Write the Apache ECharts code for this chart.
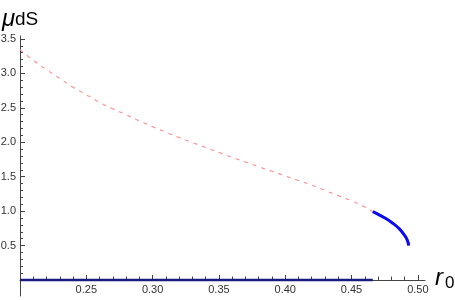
<!DOCTYPE html>
<html>
<head>
<meta charset="utf-8">
<script src="https://cdn.jsdelivr.net/npm/echarts@6/dist/echarts.min.js"></script>
<style>
html,body{margin:0;padding:0;background:#fff;}
#c{width:455px;height:300px;}
</style>
</head>
<body>
<div id="c"></div>
<script>
// Dashed (unstable) branch
var dashX = [0.20, 0.21, 0.22, 0.23, 0.24, 0.25, 0.26, 0.27, 0.28, 0.29, 0.30, 0.31, 0.32, 0.33, 0.34, 0.35, 0.36, 0.37, 0.38, 0.39, 0.40, 0.41, 0.42, 0.43, 0.44, 0.45, 0.46, 0.466];
var dashY = [3.345, 3.19, 3.053, 2.927, 2.80, 2.69, 2.58, 2.485, 2.40, 2.31, 2.226, 2.146, 2.07, 1.996, 1.925, 1.853, 1.78, 1.712, 1.645, 1.578, 1.511, 1.445, 1.379, 1.30, 1.225, 1.15, 1.06, 0.993];
// Solid blue branch
var blueX = [0.466, 0.4715, 0.4765, 0.4815, 0.4861, 0.4896, 0.4921, 0.4931];
var blueY = [0.993, 0.939, 0.886, 0.818, 0.742, 0.659, 0.576, 0.50];
// Zero branch
var zeroX = [0.20, 0.466];
var zeroY = [0, 0];
// Tick labels
var xTicks = [0.25, 0.30, 0.35, 0.40, 0.45, 0.50];
var xMinor = [0.21, 0.22, 0.23, 0.24, 0.26, 0.27, 0.28, 0.29, 0.31, 0.32, 0.33, 0.34, 0.36, 0.37, 0.38, 0.39, 0.41, 0.42, 0.43, 0.44, 0.46, 0.47, 0.48, 0.49];
var yTicks = [0.5, 1.0, 1.5, 2.0, 2.5, 3.0, 3.5];
var yMinor = [0.1, 0.2, 0.3, 0.4, 0.6, 0.7, 0.8, 0.9, 1.1, 1.2, 1.3, 1.4, 1.6, 1.7, 1.8, 1.9, 2.1, 2.2, 2.3, 2.4, 2.6, 2.7, 2.8, 2.9, 3.1, 3.2, 3.3, 3.4];

function pairs(xs, ys) { return xs.map(function (x, i) { return [x, ys[i]]; }); }

var AX = '#444';
var FONT = 'Liberation Sans, Arial, sans-serif';
var chart = echarts.init(document.getElementById('c'), null, {renderer: 'canvas'});
var xMin = 0.2, xMax = 0.5054, yMin = -0.232, yMax = 3.543;
var plotRect = {left: 20, top: 36, width: 405, height: 244, containLabel: false, outerBoundsMode: 'none'};
var fullRect = {left: 20, top: 36, width: 405, height: 260, containLabel: false, outerBoundsMode: 'none'};
var hidden = {show: false};

chart.setOption({
  animation: false,
  backgroundColor: '#fff',
  grid: [Object.assign({}, plotRect), Object.assign({}, fullRect), Object.assign({}, plotRect)],
  xAxis: [{
    gridIndex: 0, type: 'value', min: xMin, max: xMax, position: 'bottom',
    axisLine: {show: true, onZero: false, lineStyle: {color: AX, width: 1}},
    axisTick: {show: true, inside: true, length: 5, customValues: xTicks, lineStyle: {color: AX}},
    axisLabel: {show: true, customValues: xTicks, margin: 4, color: '#333', fontSize: 11, fontFamily: FONT,
      formatter: function (v) { return v.toFixed(2); }},
    splitLine: hidden
  }, {
    gridIndex: 1, type: 'value', min: xMin, max: xMax, show: false,
    axisLine: {onZero: false}
  }, {
    gridIndex: 2, type: 'value', min: xMin, max: xMax, position: 'bottom',
    axisLine: {show: false, onZero: false},
    axisTick: {show: true, inside: true, length: 3.5, customValues: xMinor, lineStyle: {color: AX}},
    axisLabel: hidden, splitLine: hidden
  }],
  yAxis: [{
    gridIndex: 0, type: 'value', min: 0, max: yMax, position: 'left',
    axisLine: {show: false, onZero: false},
    axisTick: {show: true, inside: true, length: 3, customValues: yMinor, lineStyle: {color: AX}},
    axisLabel: hidden, splitLine: hidden
  }, {
    gridIndex: 1, type: 'value', min: yMin, max: yMax, position: 'left',
    axisLine: {show: true, onZero: false, lineStyle: {color: AX, width: 1}},
    axisTick: {show: true, inside: true, length: 5, customValues: yTicks, lineStyle: {color: AX}},
    axisLabel: {show: true, customValues: yTicks, margin: 4, color: '#333', fontSize: 11, fontFamily: FONT,
      formatter: function (v) { return v.toFixed(1); }},
    splitLine: hidden
  }, {
    gridIndex: 2, type: 'value', min: 0, max: yMax, show: false,
    axisLine: {onZero: false}
  }],
  series: [{
    type: 'line', xAxisIndex: 0, yAxisIndex: 0, data: pairs(zeroX, zeroY), showSymbol: false, symbol: 'none', clip: false,
    lineStyle: {color: '#1a1a80', width: 2.5}, z: 3
  }, {
    type: 'line', xAxisIndex: 0, yAxisIndex: 0, data: pairs(dashX, dashY), showSymbol: false, symbol: 'none', smooth: true, clip: false,
    lineStyle: {color: '#ff8c8c', width: 1.1, type: [4, 5]}, z: 2
  }, {
    type: 'line', xAxisIndex: 0, yAxisIndex: 0, data: pairs(blueX, blueY), showSymbol: false, symbol: 'none', smooth: true, clip: false,
    lineStyle: {color: '#0a0af0', width: 3}, z: 3
  }],
  graphic: [
    {type: 'text', left: 2, top: 7, style: {text: 'μ', font: 'italic 24px ' + FONT, fill: '#000'}},
    {type: 'text', left: 15, top: 10, style: {text: 'dS', font: '19px ' + FONT, fill: '#000'}},
    {type: 'text', left: 435, top: 266, style: {text: 'r', font: 'italic 24px ' + FONT, fill: '#000'}},
    {type: 'text', left: 445, top: 275, style: {text: '0', font: '17px ' + FONT, fill: '#000'}}
  ]
});
</script>
</body>
</html>
